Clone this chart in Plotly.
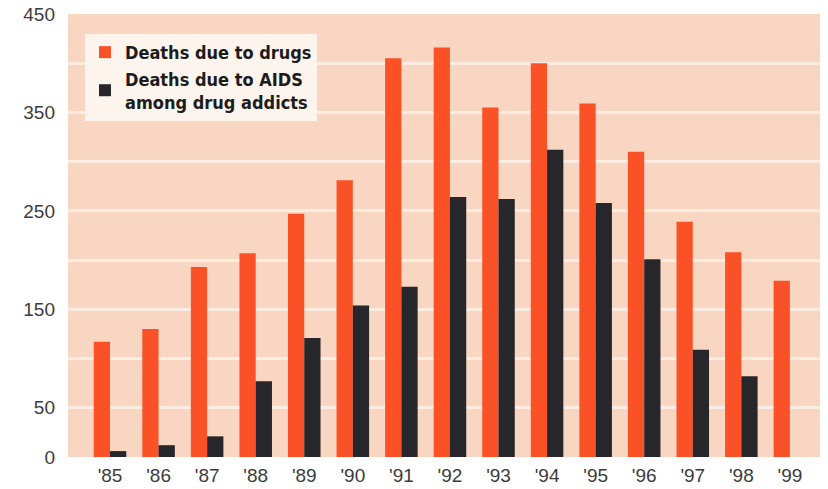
import plotly.graph_objects as go

# Yearly counts, 1985-1999
years = ["'85", "'86", "'87", "'88", "'89", "'90", "'91", "'92",
         "'93", "'94", "'95", "'96", "'97", "'98", "'99"]
drug_deaths = [117, 130, 193, 207, 247, 281, 405, 416, 355, 400, 359, 310, 239, 208, 179]
aids_deaths = [6, 12, 21, 77, 121, 154, 173, 264, 262, 312, 258, 201, 109, 82, None]

y_tick_values = [0, 50, 150, 250, 350, 450]
y_tick_labels = ["0", "50", "150", "250", "350", "450"]
grid_values = [50, 100, 150, 200, 250, 300, 350, 400]

ORANGE = "#fb5126"
DARK = "#27272b"
PLOT_BG = "#f8d6c1"
GRID = "#fcece2"
LEGEND_FONT = "Liberation Sans Narrow, DejaVu Sans Condensed, Arial Narrow, sans-serif"
TICK_FONT = "Liberation Sans, Arial, Helvetica, sans-serif"

fig = go.Figure()
fig.add_trace(go.Bar(x=years, y=drug_deaths, name="Deaths due to drugs",
                     marker=dict(color=ORANGE, line=dict(width=0))))
fig.add_trace(go.Bar(x=years, y=aids_deaths, name="Deaths due to AIDS<br>among drug addicts",
                     marker=dict(color=DARK, line=dict(width=0))))

fig.update_layout(
    width=828, height=489,
    margin=dict(l=68, r=8, t=14, b=32),
    paper_bgcolor="white",
    plot_bgcolor=PLOT_BG,
    barmode="group",
    bargap=0.33,
    bargroupgap=0,
    showlegend=True,
    legend=dict(
        x=0.0226, y=0.955, xanchor="left", yanchor="top",
        bgcolor="#fdf4ee", borderwidth=0,
        font=dict(family=LEGEND_FONT, size=18, color="#1c1c1c", weight="bold"),
        tracegroupgap=4, itemsizing="constant",
    ),
    xaxis=dict(
        type="category",
        range=[-0.865, 14.62],
        automargin=False,
        showgrid=False, zeroline=False, showline=False,
        ticks="", ticklabelstandoff=5,
        tickfont=dict(family=TICK_FONT, size=19, color="#3c3c3c"),
    ),
    yaxis=dict(
        range=[0, 450],
        automargin=False,
        tickmode="array", tickvals=y_tick_values, ticktext=y_tick_labels,
        showgrid=False, zeroline=False, showline=False,
        ticks="", ticklabelstandoff=12,
        tickfont=dict(family=TICK_FONT, size=19, color="#3c3c3c"),
        minor=dict(tickmode="array", tickvals=grid_values, showgrid=True,
                   gridcolor=GRID, gridwidth=3, ticks=""),
    ),
)

fig.write_html("out.html")
